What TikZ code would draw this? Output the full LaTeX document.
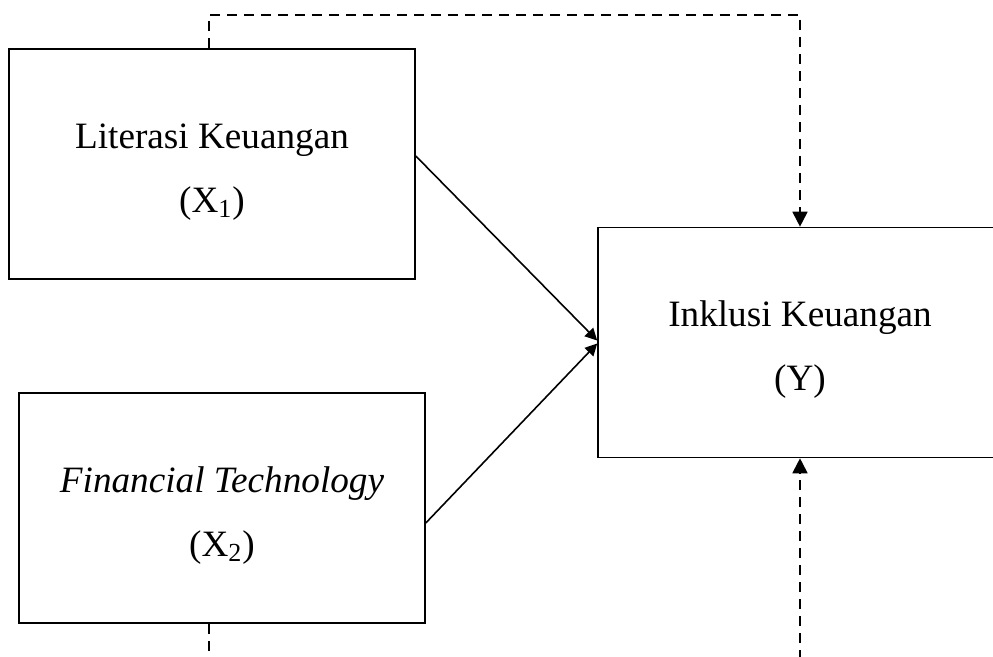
\documentclass[tikz,border=0pt]{standalone}
\usepackage{fontspec}
\setmainfont{Liberation Serif}
\usepackage{tikz}
\usetikzlibrary{arrows.meta}

\newcommand{\firstline}{\rule{0pt}{20pt}}

\begin{document}
\begin{tikzpicture}[x=0.5pt,y=-0.5pt,
    varbox/.style={draw, line width=0.8pt, minimum width=203pt, minimum height=115pt,
        align=center, inner sep=0pt, font=\fontsize{18.6}{32}\selectfont},
    effect/.style={line width=0.8pt, -{Triangle[length=6pt,width=6pt]}},
    dashline/.style={line width=0.9pt, dash pattern=on 5pt off 3.5pt}]
    \useasboundingbox (0,0) rectangle (993,657);
    \clip (0,0) rectangle (993,657);

    % Draw the variables
    \node[varbox] (x1) at (212,164) {\firstline Literasi Keuangan\\(X\textsubscript{1})};
    \node[varbox] (x2) at (222,508) {\firstline\textit{Financial Technology}\\(X\textsubscript{2})};
    \node[varbox, minimum width=202pt] (y) at (800,342.5) {\firstline Inklusi Keuangan\\(Y)};

    % Draw the free ends of the dashed lines
    \coordinate (top) at (500,15);
    \coordinate (bot) at (500,660);

    % Draw the effects
    \draw[effect] ([yshift=4pt]x1.east) -- ([yshift=1pt]y.west);
    \draw[effect] ([yshift=-7.5pt]x2.east) -- ([yshift=-0.5pt]y.west);

    % Draw the dashed lines
    \draw[dashline, -{Triangle[length=7.5pt,width=7.5pt]}] ([xshift=-1.5pt]x1.north) |- (top) -| (y.north);
    \draw[dashline] ([xshift=-6.5pt]x2.south) -- ([xshift=-6.5pt]x2.south |- bot);
    \draw[dashline, -{Triangle[length=7.5pt,width=7.5pt]}] (y.south |- bot) -- (y.south);
\end{tikzpicture}
\end{document}
